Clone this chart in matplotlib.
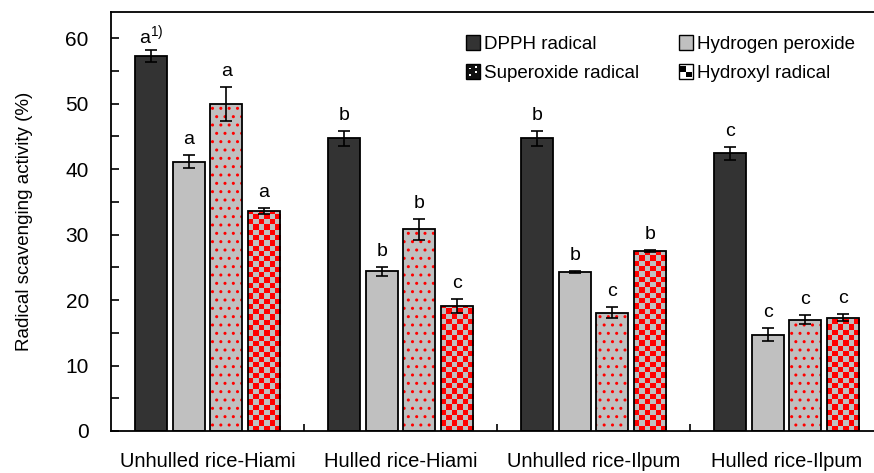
import numpy as np
import matplotlib
matplotlib.use("Agg")
import matplotlib.pyplot as plt
from matplotlib.patches import Patch, Rectangle
from matplotlib.colors import ListedColormap
from matplotlib.legend_handler import HandlerBase
from matplotlib.ticker import MultipleLocator, FixedLocator

plt.rcParams['font.family'] = ['Liberation Sans', 'DejaVu Sans']
plt.rcParams['mathtext.fontset'] = 'custom'
plt.rcParams['mathtext.rm'] = 'Liberation Sans'

categories = ["Unhulled rice-Hiami", "Hulled rice-Hiami", "Unhulled rice-Ilpum", "Hulled rice-Ilpum"]
series = ["DPPH radical", "Hydrogen peroxide", "Superoxide radical", "Hydroxyl radical"]
dpph = [57.3, 44.7, 44.7, 42.4]
dpph_err = [0.9, 1.1, 1.1, 1.0]
h2o2 = [41.1, 24.4, 24.3, 14.7]
h2o2_err = [1.0, 0.7, 0.2, 1.0]
superoxide = [50.0, 30.8, 18.1, 17.0]
superoxide_err = [2.6, 1.6, 0.8, 0.7]
hydroxyl = [33.6, 19.1, 27.5, 17.3]
hydroxyl_err = [0.5, 1.0, 0.2, 0.55]
letters = [["a$^{\\mathrm{1)}}$", "a", "a", "a"],
           ["b", "b", "b", "c"],
           ["b", "b", "c", "b"],
           ["c", "c", "c", "c"]]  # rows = category, cols = series

values = [dpph, h2o2, superoxide, hydroxyl]
errors = [dpph_err, h2o2_err, superoxide_err, hydroxyl_err]

GRAY = '#c0c0c0'
DARK = '#333333'
RED = '#ff0000'

fig = plt.figure(figsize=(8.74, 4.73), dpi=100)
ax = fig.add_axes([0.1270, 0.0888, 0.8833, 0.8858])

ngrp = len(categories)
pitch = 0.194
width = 0.166
offsets = (np.arange(4) - 1.5) * pitch
centers = np.arange(ngrp) + 0.5
YMAX = 64

for si in range(4):
    xs = centers + offsets[si]
    vals = np.array(values[si])
    errs = np.array(errors[si])
    if si == 0:
        ax.bar(xs, vals, width, color=DARK, edgecolor='black', linewidth=1.3, zorder=2)
    elif si == 1:
        ax.bar(xs, vals, width, color=GRAY, edgecolor='black', linewidth=1.3, zorder=2)
    elif si == 2:
        ax.bar(xs, vals, width, color=GRAY, edgecolor=RED, hatch='..', linewidth=0, zorder=2)
        ax.bar(xs, vals, width, color='none', edgecolor='black', linewidth=1.3, zorder=3)
    else:
        bars = ax.bar(xs, vals, width, color=GRAY, edgecolor='none', linewidth=0, zorder=2)
        for b, x, v in zip(bars, xs, vals):
            ncol = 6
            nrow = max(1, int(round(v * 6.55 / 5.3)))
            arr = (np.add.outer(np.arange(nrow), np.arange(ncol)) % 2)
            im = ax.imshow(arr, extent=[x - width / 2, x + width / 2, 0, nrow * 5.3 / 6.55],
                           cmap=ListedColormap([GRAY, RED]), interpolation='nearest',
                           aspect='auto', origin='lower', zorder=2.5)
            im.set_clip_path(b)
        ax.bar(xs, vals, width, color='none', edgecolor='black', linewidth=1.3, zorder=3)
    ax.errorbar(xs, vals, yerr=errs, fmt='none', ecolor='black', elinewidth=1.2,
                capsize=4.5, capthick=1.2, zorder=4)
    for ci in range(ngrp):
        lab = letters[ci][si]
        off = 1.5 if '$' in lab else 5
        ax.annotate(lab, (xs[ci], vals[ci] + errs[ci]), xytext=(0, off),
                    textcoords='offset points', ha='center', va='bottom', fontsize=14)

ax.set_xlim(0, ngrp)
ax.set_ylim(0, YMAX)
ax.yaxis.set_major_locator(MultipleLocator(10))
ax.yaxis.set_minor_locator(MultipleLocator(5))
ax.tick_params(axis='y', which='both', direction='in', length=6, width=1.2, labelsize=15, pad=16)
ax.xaxis.set_major_locator(FixedLocator(np.arange(1, ngrp)))
ax.xaxis.set_minor_locator(FixedLocator(centers))
ax.set_xticklabels([], minor=False)
ax.set_xticklabels(categories, minor=True)
ax.tick_params(axis='x', which='major', direction='in', length=5, width=1.2)
ax.tick_params(axis='x', which='minor', length=0, labelsize=14.5, pad=15)
for s in ax.spines.values():
    s.set_linewidth(1.3)
ax.set_ylabel("Radical scavenging activity (%)", fontsize=13.5, labelpad=23)


class SquareHandler(HandlerBase):
    def __init__(self, kind):
        super().__init__()
        self.kind = kind

    def create_artists(self, legend, orig_handle, xdescent, ydescent, width, height, fontsize, trans):
        s = min(width, height)
        x0 = -xdescent + (width - s) / 2
        y0 = -ydescent + (height - s) / 2
        arts = []
        if self.kind == 'dpph':
            arts.append(Rectangle((x0, y0), s, s, fc=DARK, ec='black', lw=1.0, transform=trans))
        elif self.kind == 'h2o2':
            arts.append(Rectangle((x0, y0), s, s, fc=GRAY, ec='black', lw=1.0, transform=trans))
        elif self.kind == 'sup':
            arts.append(Rectangle((x0, y0), s, s, fc='#111111', ec='black', lw=1.0, transform=trans))
            for (fx, fy) in [(0.3, 0.7), (0.7, 0.45), (0.3, 0.25), (0.7, 0.8)]:
                arts.append(Rectangle((x0 + fx * s - 0.6, y0 + fy * s - 0.6), 1.2, 1.2,
                                      fc='white', ec='none', transform=trans))
        else:
            arts.append(Rectangle((x0, y0), s, s, fc='white', ec='black', lw=1.0, transform=trans))
            arts.append(Rectangle((x0 + 0.12 * s, y0 + 0.5 * s), 0.38 * s, 0.38 * s, fc='black', ec='none', transform=trans))
            arts.append(Rectangle((x0 + 0.5 * s, y0 + 0.12 * s), 0.38 * s, 0.38 * s, fc='black', ec='none', transform=trans))
        return arts


kinds = ['dpph', 'h2o2', 'sup', 'hyd']
handles = [Patch(label=series[i]) for i in range(4)]
order = [0, 2, 1, 3]
leg = ax.legend([handles[i] for i in order], [series[i] for i in order],
                handler_map={handles[i]: SquareHandler(kinds[i]) for i in range(4)},
                ncol=2, frameon=False, fontsize=13.5, loc='upper left',
                bbox_to_anchor=(0.437, 0.985), handlelength=0.82, handleheight=0.82,
                handletextpad=0.2, columnspacing=2.07, labelspacing=0.6)

fig.savefig("out.png", dpi=100)
